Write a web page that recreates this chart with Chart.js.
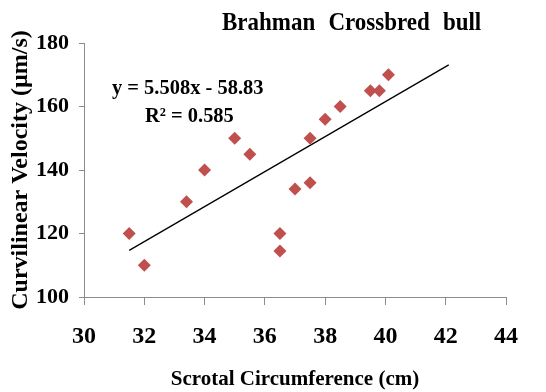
<!DOCTYPE html>
<html>
<head>
<meta charset="utf-8">
<script src="https://cdn.jsdelivr.net/npm/chart.js@4/dist/chart.umd.min.js"></script>
<style>
  html, body { margin:0; padding:0; background:#fff; }
  #wrap { width:546px; height:392px; }
</style>
</head>
<body>
<div id="wrap"><canvas id="chart" width="546" height="392"></canvas></div>
<script>
// scrotal circumference (cm) vs curvilinear velocity (um/s)
const scrotalCm = [31.5, 32, 33.4, 34, 35, 35.5, 36.5, 36.5, 37, 37.5, 37.5, 38, 38.5, 39.5, 39.8, 40.1];
const velocity  = [120, 110, 130, 140, 150, 145, 120, 114.5, 134, 136, 150, 156, 160, 165, 165, 170];

// trend line end points
const trendX = [31.5, 42.1];
const trendY = [114.7, 173.1];

const xTicks = [30, 32, 34, 36, 38, 40, 42, 44];
const yTicks = [100, 120, 140, 160, 180];

const titleText = 'Brahman Crossbred bull';
const eqText = 'y = 5.508x - 58.83';
const r2Text = 'R² = 0.585';

const serif = '"Liberation Serif", "Times New Roman", serif';
const axisGrey = '#8c8c8c';

// draw text squeezed a bit sideways, like the original
function squeezed(ctx, text, x, y, sx) {
  ctx.save();
  ctx.translate(x, y);
  ctx.scale(sx, 1);
  ctx.fillText(text, 0, 0);
  ctx.restore();
}

const textPlugin = {
  id: 'texts',
  afterDraw(chart) {
    const ctx = chart.ctx;
    ctx.save();
    ctx.fillStyle = '#000';
    ctx.textBaseline = 'middle';
    ctx.textAlign = 'left';
    ctx.font = 'bold 25px ' + serif;
    ctx.wordSpacing = '8px';
    squeezed(ctx, titleText, 222, 24, 0.92);
    ctx.wordSpacing = '0px';
    ctx.font = 'bold 22px ' + serif;
    squeezed(ctx, eqText, 112, 88, 0.93);
    squeezed(ctx, r2Text, 145, 116, 0.93);
    ctx.restore();
  }
};

new Chart(document.getElementById('chart'), {
  type: 'scatter',
  data: {
    datasets: [
      {
        label: 'data',
        data: scrotalCm.map((x, i) => ({ x: x, y: velocity[i] })),
        pointStyle: 'rectRot',
        pointRadius: 6.5,
        pointBackgroundColor: '#c0504d',
        pointBorderColor: '#c0504d',
        pointBorderWidth: 0,
        order: 1
      },
      {
        type: 'line',
        label: 'trend',
        data: trendX.map((x, i) => ({ x: x, y: trendY[i] })),
        borderColor: '#000',
        borderWidth: 1.3,
        pointRadius: 0,
        fill: false,
        order: 2
      }
    ]
  },
  options: {
    responsive: false,
    animation: false,
    layout: { padding: { top: 43, right: 40, left: 6, bottom: 0 } },
    plugins: {
      legend: { display: false },
      tooltip: { enabled: false }
    },
    scales: {
      x: {
        type: 'linear',
        min: 30, max: 44,
        afterBuildTicks(s) { s.ticks = xTicks.map(v => ({ value: v })); },
        afterFit(s) { s.height = 392 - 297; },
        border: { color: axisGrey, width: 1 },
        grid: { drawOnChartArea: false, drawTicks: true, tickLength: 8, color: axisGrey },
        ticks: { color: '#000', font: { family: serif, size: 24, weight: 'bold' }, padding: 17, maxRotation: 0 },
        title: { display: true, text: 'Scrotal Circumference (cm)', color: '#000',
                 font: { family: serif, size: 21, weight: 'bold' }, padding: { top: 0, bottom: 0 } }
      },
      y: {
        type: 'linear',
        min: 100, max: 180,
        afterBuildTicks(s) { s.ticks = yTicks.map(v => ({ value: v })); },
        afterFit(s) { s.width = 84 - 6; },
        border: { color: axisGrey, width: 1 },
        grid: { drawOnChartArea: false, drawTicks: true, tickLength: 5, color: axisGrey },
        ticks: { color: '#000', font: { family: serif, size: 22, weight: 'bold' }, padding: 10 },
        title: { display: true, text: 'Curvilinear Velocity (µm/s)', color: '#000',
                 font: { family: serif, size: 24, weight: 'bold' }, padding: 0 }
      }
    }
  },
  plugins: [textPlugin]
});
</script>
</body>
</html>
